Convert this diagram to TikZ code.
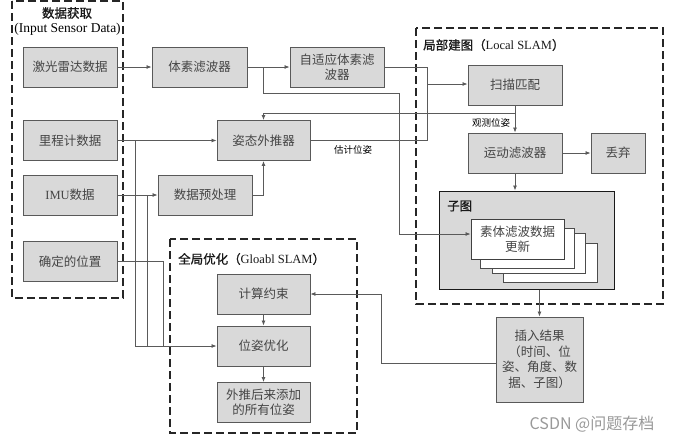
\documentclass[tikz,border=0pt]{standalone}
\usepackage{fontspec}
\setmainfont{Liberation Serif}
\newfontfamily\cjk{Noto Sans CJK SC}
\newfontfamily\cjkb[FakeBold=1.2]{Noto Sans CJK SC}
\usetikzlibrary{arrows.meta,calc}
\definecolor{boxfill}{HTML}{D9D9D9}
\definecolor{boxline}{HTML}{595959}
\definecolor{conn}{HTML}{5A5A5A}
\definecolor{txt}{HTML}{454545}
\tikzset{
 box/.style={draw=boxline, fill=boxfill, line width=0.9pt, align=center, inner sep=0pt, text=txt, font=\cjk\fontsize{12.5}{15.5}\selectfont},
 conline/.style={draw=conn, line width=0.8pt},
 arr/.style={conline, -{Latex[length=5pt,width=4pt]}},
 group/.style={draw=black!85, line width=1.4pt, dash pattern=on 8pt off 4pt},
 ttl/.style={font=\cjkb\fontsize{12.5}{15}\selectfont, text=black!90, inner sep=0pt},
 lbl/.style={font=\cjk\fontsize{9.5}{11}\selectfont, inner sep=0pt},
 layer/.style={draw=black!70, fill=white, line width=0.8pt},
}
\begin{document}
\begin{tikzpicture}[x=1pt,y=-1pt]
\useasboundingbox (0,0) rectangle (675,442);

% group frames
\draw[group] (12,1) rectangle (123,298);
\draw[group] (416,28) rectangle (663,304);
\draw[group] (170,239) rectangle (357,433);

% titles
\node[ttl] (t1) at (67,13) {数据获取};
\node[inner sep=0pt, font=\fontsize{13.5}{15}\selectfont] (t2) at (67.5,29) {(Input Sensor Data)};
\node[ttl, anchor=west] (t3) at (423,45) {局部建图（{\rmfamily\mdseries Local SLAM}）};
\node[ttl, anchor=west] (t4) at (178,259) {全局优化（{\rmfamily\mdseries Gloabl SLAM}）};

% input boxes
\node[box, minimum width=94pt, minimum height=40pt] (lidar) at (70,67) {激光雷达数据};
\node[box, minimum width=94pt, minimum height=40pt] (odom) at (70,140.5) {里程计数据};
\node[box, minimum width=94pt, minimum height=40pt] (imu) at (70,195) {{\rmfamily IMU}数据};
\node[box, minimum width=94pt, minimum height=40pt] (fixed) at (70,261.5) {确定的位置};

% middle boxes
\node[box, minimum width=95pt, minimum height=40pt] (voxel) at (199.5,67) {体素滤波器};
\node[box, minimum width=94pt, minimum height=40pt] (adapt) at (337,67) {自适应体素滤\\波器};
\node[box, minimum width=93pt, minimum height=40pt] (extrap) at (263.5,140.5) {姿态外推器};
\node[box, minimum width=94pt, minimum height=40pt] (prep) at (205,195) {数据预处理};

% local slam
\node[box, minimum width=94pt, minimum height=40pt] (scan) at (515,85) {扫描匹配};
\node[box, minimum width=94pt, minimum height=40pt] (motion) at (515,153) {运动滤波器};
\node[box, minimum width=54pt, minimum height=40pt] (discard) at (618,153) {丢弃};
\node[draw=black!90, fill=boxfill, line width=1pt, minimum width=175pt, minimum height=98pt, inner sep=0pt] (submap) at (526.5,240) {};
\node[ttl, anchor=west] (t5) at (447,206) {子图};
\draw[layer] (503,243) rectangle (597,282);
\draw[layer] (492,233) rectangle (585,273);
\draw[layer] (480,228) rectangle (574,268);
\node[box, fill=white, draw=black!75, minimum width=93pt, minimum height=40pt] (front) at (517.5,239) {素体滤波数据\\更新};

\node[box, minimum width=87pt, minimum height=85pt] (insert) at (539.5,359.5) {插入结果\\（时间、位\\姿、角度、数\\据、子图）};

% global slam
\node[box, minimum width=93pt, minimum height=40pt] (constr) at (263.5,294) {计算约束};
\node[box, minimum width=93pt, minimum height=40pt] (popt) at (263.5,346) {位姿优化};
\node[box, minimum width=93pt, minimum height=40pt] (allpose) at (263.5,402.5) {外推后来添加\\的所有位姿};

% junction coordinates
\coordinate (j1) at (263,67);
\coordinate (j2) at (399,93);
\coordinate (j3) at (427,84);
\coordinate (j4) at (515,113);
\coordinate (j5) at (381,294);
\coordinate (k1) at (135,140.5);
\coordinate (k2) at (147,195);
\coordinate (k3) at (163,261.5);

% connectors
\draw[arr] (lidar) -- (voxel);
\draw[arr] (voxel) -- (adapt);
\draw[arr] (j1) |- (j2) |- ([yshift=5pt]front.west);
\draw[arr] (adapt.east) -| (j3) -- (scan.west |- j3);
\draw[conline] (extrap.east) -| (j3);
\node[lbl] (l1) at (353,150) {估计位姿};
\draw[arr] (scan) -- (motion);
\node[lbl] (l2) at (491,123) {观测位姿};
\draw[arr] (j4) -| (extrap.north);
\draw[arr] (motion) -- (discard);
\draw[arr] (motion.south) -- (motion.south |- submap.north);
\draw[arr] (insert.north |- submap.south) -- (insert.north);
\draw[arr] ([yshift=-3.5pt]insert.west) -| (j5) -- (constr.east);
\draw[arr] (constr) -- (popt);
\draw[arr] (popt) -- (allpose);
\draw[arr] (odom) -- (extrap);
\draw[arr] (imu) -- (prep);
\draw[arr] (prep.east) -| (extrap.south);
\draw[arr] (k1) |- (popt.west);
\draw[conline] (k2) -- (k2 |- popt.west);
\draw[conline] (fixed.east) -| (k3 |- popt.west);

% watermark
\node[inner sep=0pt, text=black!40, font=\cjk\fontsize{16}{18}\selectfont] (wm) at (592,424) {CSDN @问题存档};
\end{tikzpicture}
\end{document}
